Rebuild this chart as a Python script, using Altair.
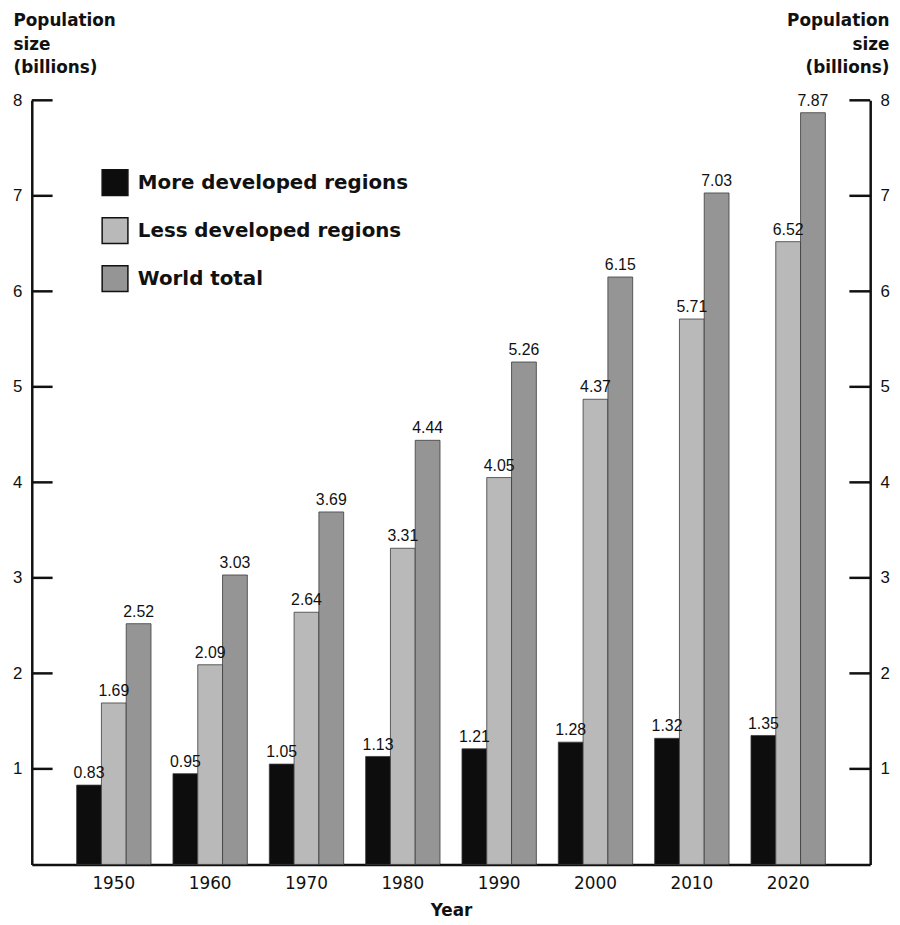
import altair as alt
import pandas as pd

years = ["1950", "1960", "1970", "1980", "1990", "2000", "2010", "2020"]
series = ["More developed regions", "Less developed regions", "World total"]
more_dev = [0.83, 0.95, 1.05, 1.13, 1.21, 1.28, 1.32, 1.35]
less_dev = [1.69, 2.09, 2.64, 3.31, 4.05, 4.87, 5.71, 6.52]
world = [2.52, 3.03, 3.69, 4.44, 5.26, 6.15, 7.03, 7.87]
more_dev_labels = ["0.83", "0.95", "1.05", "1.13", "1.21", "1.28", "1.32", "1.35"]
less_dev_labels = ["1.69", "2.09", "2.64", "3.31", "4.05", "4.37", "5.71", "6.52"]
world_labels = ["2.52", "3.03", "3.69", "4.44", "5.26", "6.15", "7.03", "7.87"]
y_ticks = [1, 2, 3, 4, 5, 6, 7, 8]
colors = ["#0d0d0d", "#b9b9b9", "#959595"]

rows = []
for vals, labs, s in [(more_dev, more_dev_labels, series[0]),
                      (less_dev, less_dev_labels, series[1]),
                      (world, world_labels, series[2])]:
    for yr, v, lab in zip(years, vals, labs):
        rows.append({"year": yr, "series": s, "value": v, "label": lab})
df = pd.DataFrame(rows)
ticks_df = pd.DataFrame({"t": y_ticks})

W, H = 846, 771
TITLE_FONT = "DejaVu Sans"
NUM_FONT = "Liberation Sans"

x_enc = alt.X(
    "year:N", sort=years,
    scale=alt.Scale(paddingInner=0.228, paddingOuter=0.4655),
    axis=alt.Axis(title="Year", labelAngle=0, ticks=False, domainColor="#111",
                  domainWidth=2.5, labelFont=TITLE_FONT, labelFontSize=17,
                  labelColor="#111", labelPadding=11, titleFont=TITLE_FONT,
                  titleFontSize=17, titleFontWeight="bold", titleColor="#111",
                  titlePadding=12),
)
xo_enc = alt.XOffset("series:N", sort=series,
                     scale=alt.Scale(paddingInner=0, paddingOuter=0))
y_scale = alt.Scale(domain=[0, 8], nice=False)

bars = alt.Chart(df).mark_bar(stroke="#3a3a3a", strokeWidth=0.8).encode(
    x=x_enc,
    xOffset=xo_enc,
    y=alt.Y("value:Q", scale=y_scale,
            axis=alt.Axis(orient="left", values=y_ticks, ticks=False, grid=False,
                          domainColor="#111", domainWidth=2.5,
                          labelFont=NUM_FONT, labelFontSize=17, labelColor="#111",
                          labelPadding=10,
                          title=["Population", "size", "(billions)"],
                          titleAngle=0, titleAlign="left", titleBaseline="top",
                          titleX=-19, titleY=-88, titleLineHeight=23.5,
                          titleFont=TITLE_FONT, titleFontSize=17,
                          titleFontWeight="bold", titleColor="#111")),
    color=alt.Color("series:N", sort=series,
                    scale=alt.Scale(domain=series, range=colors),
                    legend=alt.Legend(title=None, orient="none", legendX=70, legendY=69,
                                      direction="vertical", symbolType="square",
                                      symbolSize=676, symbolStrokeColor="#111",
                                      symbolStrokeWidth=1.5, symbolOpacity=1,
                                      labelFont=TITLE_FONT, labelFontSize=20,
                                      labelFontWeight="bold", labelColor="#111",
                                      labelOffset=9, rowPadding=16.5, padding=0,
                                      labelLimit=0)),
)

labels = alt.Chart(df).mark_text(baseline="alphabetic", dy=-7, font=NUM_FONT,
                                 fontSize=16, color="#111").encode(
    x=alt.X("year:N", sort=years),
    xOffset=alt.XOffset("series:N", sort=series),
    y=alt.Y("value:Q", scale=y_scale, axis=None),
    text="label:N",
)

left_ticks = alt.Chart(ticks_df).mark_rule(color="#111", strokeWidth=2.5).encode(
    x=alt.value(0), x2=alt.value(21),
    y=alt.Y("t:Q", scale=y_scale, axis=None),
)

right_ticks = alt.Chart(ticks_df).mark_rule(color="#111", strokeWidth=2.5).encode(
    x=alt.value(W - 21), x2=alt.value(W),
    y=alt.Y("t:Q", scale=y_scale,
            axis=alt.Axis(orient="right", values=y_ticks, ticks=False, grid=False,
                          domainColor="#111", domainWidth=2.5,
                          labelFont=NUM_FONT, labelFontSize=17, labelColor="#111",
                          labelPadding=10,
                          title=["Population", "size", "(billions)"],
                          titleAngle=0, titleAlign="right", titleBaseline="top",
                          titleX=19, titleY=-88, titleLineHeight=23.5,
                          titleFont=TITLE_FONT, titleFontSize=17,
                          titleFontWeight="bold", titleColor="#111")),
)

chart = alt.layer(bars, labels, left_ticks, right_ticks).resolve_axis(
    y="independent"
).properties(
    width=W, height=H,
    autosize=alt.AutoSizeParams(type="none"),
    padding={"left": 24, "top": 89, "right": 22, "bottom": 56},
    background="white",
).configure_view(stroke=None)

chart.save("out.html", embed_options={"renderer": "svg", "actions": False})
